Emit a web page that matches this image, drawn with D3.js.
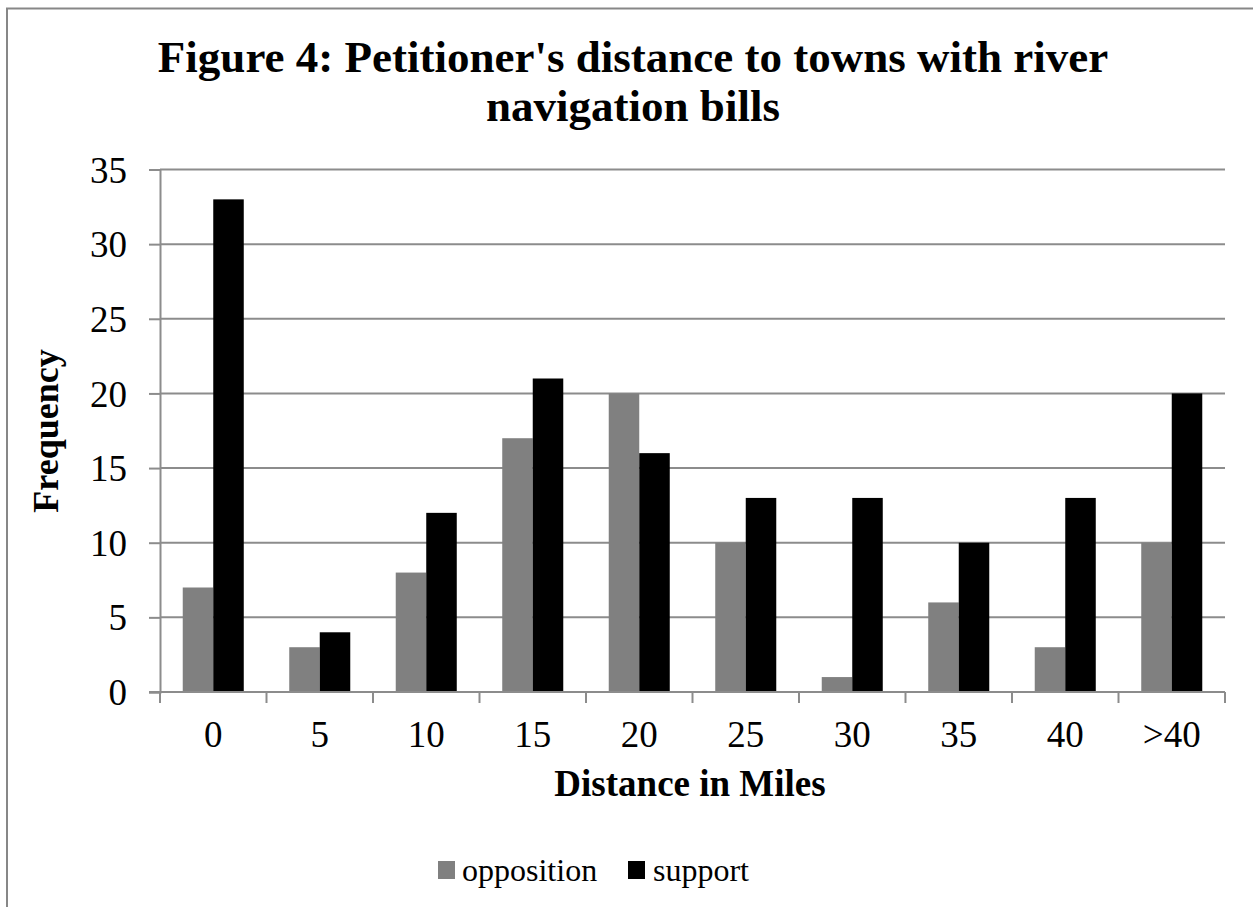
<!DOCTYPE html>
<html>
<head>
<meta charset="utf-8">
<script src="https://cdn.jsdelivr.net/npm/d3@7"></script>
<style>
  html, body { margin: 0; padding: 0; background: #fff; }
  svg { display: block; }
  text { font-family: "Liberation Serif", "Times New Roman", serif; fill: #000; }
</style>
</head>
<body>
<svg id="chart" width="1253" height="907"></svg>
<script>
// Histogram data: distance bins (miles) and petition counts per side
const categories = ["0", "5", "10", "15", "20", "25", "30", "35", "40", ">40"];
const seriesNames = ["opposition", "support"];
const opposition = [7, 3, 8, 17, 20, 10, 1, 6, 3, 10];
const support = [33, 4, 12, 21, 16, 13, 13, 10, 13, 20];
const yTicks = [0, 5, 10, 15, 20, 25, 30, 35];
const seriesColors = ["#808080", "#000000"];

const svg = d3.select("#chart");
const W = 1253, H = 907;
const plot = { left: 160, right: 1225, top: 169.5, bottom: 692 };

// Outer chart frame
svg.append("rect")
  .attr("x", 7).attr("y", 8.5)
  .attr("width", W + 20).attr("height", H + 20)
  .attr("fill", "#fff").attr("stroke", "#878787").attr("stroke-width", 2);

// Title
const title = svg.append("text")
  .attr("text-anchor", "middle")
  .attr("font-weight", "bold")
  .attr("font-size", 45);
title.append("tspan").attr("x", 633).attr("y", 72)
  .text("Figure 4: Petitioner's distance to towns with river");
title.append("tspan").attr("x", 633).attr("y", 121)
  .text("navigation bills");

const x0 = d3.scaleBand()
  .domain(categories)
  .range([plot.left, plot.right])
  .paddingInner(0.427)
  .paddingOuter(0.2135);

const x1 = d3.scaleBand()
  .domain(seriesNames)
  .range([0, x0.bandwidth()])
  .padding(0);

const y = d3.scaleLinear()
  .domain([0, 35])
  .range([plot.bottom, plot.top]);

const color = d3.scaleOrdinal().domain(seriesNames).range(seriesColors);

// Horizontal gridlines
svg.append("g")
  .selectAll("line")
  .data(yTicks)
  .join("line")
  .attr("x1", plot.left).attr("x2", plot.right)
  .attr("y1", d => y(d)).attr("y2", d => y(d))
  .attr("stroke", "#8c8c8c").attr("stroke-width", 2);

// Y axis
const yAxis = svg.append("g")
  .attr("transform", `translate(${plot.left},0)`)
  .call(d3.axisLeft(y).tickValues(yTicks).tickSize(11).tickPadding(22));
yAxis.select(".domain").attr("stroke", "#8c8c8c").attr("stroke-width", 2);
yAxis.selectAll(".tick line").attr("stroke", "#8c8c8c").attr("stroke-width", 2);
yAxis.selectAll(".tick text")
  .attr("font-family", "Liberation Serif, Times New Roman, serif")
  .attr("font-size", 37).attr("fill", "#000").attr("dy", "0.34em");

// Bars
const rows = categories.map((c, i) => ({ cat: c, values: [opposition[i], support[i]] }));
svg.append("g")
  .selectAll("g")
  .data(rows)
  .join("g")
  .attr("transform", d => `translate(${x0(d.cat)},0)`)
  .selectAll("rect")
  .data(d => seriesNames.map((s, j) => ({ key: s, value: d.values[j] })))
  .join("rect")
  .attr("x", d => x1(d.key))
  .attr("width", x1.bandwidth())
  .attr("y", d => y(d.value))
  .attr("height", d => y(0) - y(d.value))
  .attr("fill", d => color(d.key));

// X axis: baseline, boundary ticks between categories, centered labels
const xAxis = svg.append("g").attr("transform", `translate(0,${plot.bottom})`);
xAxis.append("line")
  .attr("x1", plot.left - 11).attr("x2", plot.right)
  .attr("stroke", "#8c8c8c").attr("stroke-width", 2);
const boundaries = d3.range(categories.length + 1).map(i => plot.left + i * x0.step());
xAxis.selectAll("line.tick")
  .data(boundaries)
  .join("line")
  .attr("class", "tick")
  .attr("x1", d => d).attr("x2", d => d)
  .attr("y1", 0).attr("y2", 11)
  .attr("stroke", "#8c8c8c").attr("stroke-width", 2);
xAxis.selectAll("text")
  .data(categories)
  .join("text")
  .attr("x", d => x0(d) + x0.bandwidth() / 2)
  .attr("y", 55)
  .attr("text-anchor", "middle")
  .attr("font-size", 37)
  .text(d => d);

// Axis titles
svg.append("text")
  .attr("x", 690).attr("y", 796)
  .attr("text-anchor", "middle")
  .attr("font-weight", "bold").attr("font-size", 37)
  .text("Distance in Miles");

svg.append("text")
  .attr("transform", "translate(58,431) rotate(-90)")
  .attr("text-anchor", "middle")
  .attr("font-weight", "bold").attr("font-size", 36)
  .text("Frequency");

// Legend
const legend = svg.append("g");
const legendItems = [
  { key: "opposition", sx: 438, tx: 462 },
  { key: "support", sx: 628, tx: 653 }
];
legend.selectAll("rect")
  .data(legendItems)
  .join("rect")
  .attr("x", d => d.sx).attr("y", 861)
  .attr("width", 17).attr("height", 18)
  .attr("fill", d => color(d.key));
legend.selectAll("text")
  .data(legendItems)
  .join("text")
  .attr("x", d => d.tx).attr("y", 881)
  .attr("font-size", 32)
  .text(d => d.key);
</script>
</body>
</html>
